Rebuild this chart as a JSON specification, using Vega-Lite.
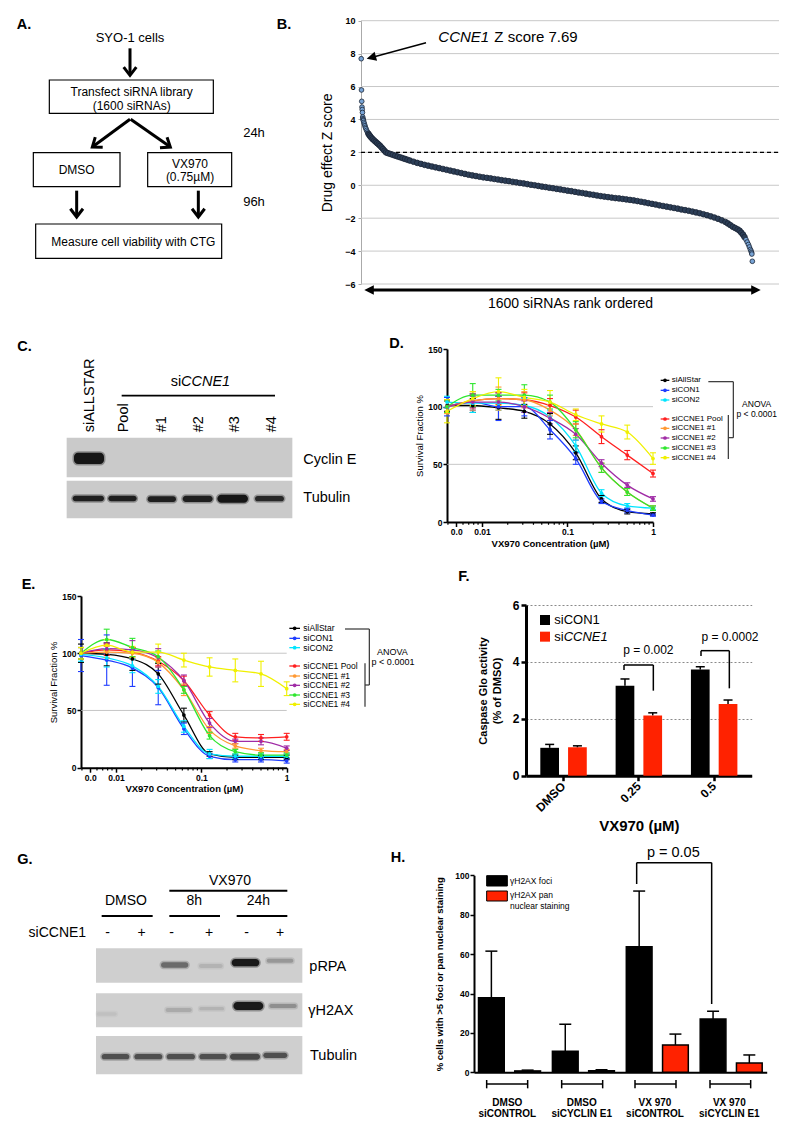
{
"$schema":"https://vega.github.io/schema/vega-lite/v6.json",
"width":800,"height":1135,"autosize":{"type":"none"},"padding":0,"background":"white",
"config":{"view":{"stroke":null},"font":"Liberation Sans","text":{"font":"Liberation Sans","color":"black"},
"axis":{"grid":false,"labelFont":"Liberation Sans","titleFont":"Liberation Sans","labelColor":"black","titleColor":"black","domainColor":"black","tickColor":"black","labelFlush":false,"labelOverlap":false}},
"datasets":{
"aBox":[{"x":148,"y":240,"x2":640,"y2":340},{"x":100,"y":458,"x2":360,"y2":560},{"x":443,"y":458,"x2":695,"y2":560},{"x":107,"y":672,"x2":665,"y2":775}],
"aLine":[{"x":390,"y":145,"x2":390,"y2":222},{"x":390,"y":358,"x2":281,"y2":438},{"x":392,"y":358,"x2":507,"y2":438},{"x":230,"y":572,"x2":230,"y2":647},{"x":595,"y":572,"x2":595,"y2":647}],
"aHead":[{"x":390,"y":226,"ang":0},{"x":230,"y":651,"ang":0},{"x":595,"y":651,"ang":0},{"x":277,"y":441,"ang":54},{"x":511,"y":441,"ang":-56}],
"aText":[{"x":395,"y":275,"t":"Transfect siRNA library"},{"x":395,"y":318,"t":"(1600 siRNAs)"},{"x":230,"y":510,"t":"DMSO"},{"x":570,"y":492,"t":"VX970"},{"x":570,"y":532,"t":"(0.75µM)"},{"x":400,"y":725,"t":"Measure cell viability with CTG"}],
"aText13":[{"x":390,"y":113,"t":"SYO-1 cells"},{"x":762,"y":400,"t":"24h"},{"x":762,"y":605,"t":"96h"}],
"aLetter":[{"x":50,"y":75,"t":"A."},{"x":830,"y":75,"t":"B."}],
"bGrid":[{"z":-6},{"z":-4},{"z":-2},{"z":0},{"z":2},{"z":4},{"z":6},{"z":8},{"z":10}],
"bZ":[{"r":1,"z":7.69},{"r":2,"z":5.79},{"r":3,"z":5.1},{"r":4,"z":4.75},{"r":5,"z":4.6},{"r":6,"z":4.42},{"r":7,"z":4.15},{"r":8,"z":4.05},{"r":9,"z":3.98},{"r":10,"z":3.92},{"r":12,"z":3.82},{"r":14,"z":3.72},{"r":16,"z":3.62},{"r":18,"z":3.52},{"r":20,"z":3.44},{"r":23,"z":3.34},{"r":26,"z":3.24},{"r":30,"z":3.14},{"r":34,"z":3.05},{"r":38,"z":2.97},{"r":43,"z":2.88},{"r":48,"z":2.8},{"r":54,"z":2.72},{"r":60,"z":2.64},{"r":66,"z":2.56},{"r":72,"z":2.48},{"r":78,"z":2.4},{"r":84,"z":2.3},{"r":90,"z":2.2},{"r":96,"z":2.1},{"r":102,"z":2.0},{"r":110,"z":1.95},{"r":120,"z":1.9},{"r":130,"z":1.85},{"r":140,"z":1.8},{"r":150,"z":1.75},{"r":160,"z":1.7},{"r":170,"z":1.65},{"r":180,"z":1.6},{"r":190,"z":1.55},{"r":200,"z":1.5},{"r":215,"z":1.43},{"r":230,"z":1.36},{"r":245,"z":1.3},{"r":260,"z":1.24},{"r":275,"z":1.19},{"r":290,"z":1.14},{"r":305,"z":1.09},{"r":320,"z":1.04},{"r":335,"z":0.99},{"r":350,"z":0.94},{"r":365,"z":0.89},{"r":380,"z":0.84},{"r":395,"z":0.79},{"r":410,"z":0.74},{"r":425,"z":0.69},{"r":440,"z":0.64},{"r":455,"z":0.6},{"r":470,"z":0.56},{"r":485,"z":0.52},{"r":500,"z":0.48},{"r":515,"z":0.45},{"r":530,"z":0.42},{"r":545,"z":0.38},{"r":560,"z":0.35},{"r":575,"z":0.31},{"r":590,"z":0.28},{"r":605,"z":0.25},{"r":620,"z":0.21},{"r":635,"z":0.18},{"r":650,"z":0.14},{"r":665,"z":0.11},{"r":680,"z":0.07},{"r":695,"z":0.03},{"r":710,"z":0.0},{"r":725,"z":-0.04},{"r":740,"z":-0.08},{"r":755,"z":-0.11},{"r":770,"z":-0.15},{"r":785,"z":-0.18},{"r":800,"z":-0.22},{"r":815,"z":-0.25},{"r":830,"z":-0.29},{"r":845,"z":-0.33},{"r":860,"z":-0.36},{"r":875,"z":-0.4},{"r":890,"z":-0.44},{"r":905,"z":-0.47},{"r":920,"z":-0.51},{"r":935,"z":-0.55},{"r":950,"z":-0.58},{"r":965,"z":-0.62},{"r":980,"z":-0.66},{"r":995,"z":-0.69},{"r":1010,"z":-0.72},{"r":1025,"z":-0.75},{"r":1040,"z":-0.78},{"r":1055,"z":-0.8},{"r":1070,"z":-0.83},{"r":1085,"z":-0.86},{"r":1100,"z":-0.89},{"r":1115,"z":-0.92},{"r":1130,"z":-0.96},{"r":1145,"z":-1.0},{"r":1160,"z":-1.04},{"r":1175,"z":-1.09},{"r":1190,"z":-1.13},{"r":1205,"z":-1.17},{"r":1220,"z":-1.22},{"r":1235,"z":-1.26},{"r":1250,"z":-1.3},{"r":1265,"z":-1.34},{"r":1280,"z":-1.38},{"r":1295,"z":-1.42},{"r":1310,"z":-1.47},{"r":1325,"z":-1.51},{"r":1340,"z":-1.55},{"r":1355,"z":-1.6},{"r":1370,"z":-1.65},{"r":1385,"z":-1.7},{"r":1400,"z":-1.76},{"r":1415,"z":-1.82},{"r":1430,"z":-1.89},{"r":1445,"z":-1.96},{"r":1460,"z":-2.04},{"r":1475,"z":-2.13},{"r":1490,"z":-2.23},{"r":1500,"z":-2.32},{"r":1510,"z":-2.42},{"r":1520,"z":-2.52},{"r":1530,"z":-2.6},{"r":1540,"z":-2.68},{"r":1548,"z":-2.76},{"r":1555,"z":-2.88},{"r":1562,"z":-3.0},{"r":1568,"z":-3.15},{"r":1574,"z":-3.3},{"r":1579,"z":-3.45},{"r":1584,"z":-3.6},{"r":1588,"z":-3.75},{"r":1592,"z":-3.9},{"r":1595,"z":-4.0},{"r":1597,"z":-4.1},{"r":1598,"z":-4.18},{"r":1600,"z":-4.62}],
"bTextI":[{"x":415,"y":110,"t":"CCNE1"}],
"bText":[{"x":583,"y":110,"t":"Z score 7.69"}],
"bThin":[{"x":378,"y":128,"x2":212,"y2":173}],
"bThick":[{"x":205,"y":870,"x2":1370,"y2":870}],
"bHead":[{"x":200,"y":176,"ang":75},{"x":193,"y":870,"ang":90},{"x":1382,"y":870,"ang":-90}],
"cBlot":[{"x":200,"y":398,"x2":877,"y2":517},{"x":200,"y":527,"x2":877,"y2":640}],
"cBand":[{"x":222,"x2":312,"y":443,"y2":477,"d":1},{"x":218,"x2":312,"y":572,"y2":589,"d":0.95},{"x":325,"x2":410,"y":572,"y2":589,"d":0.95},{"x":443,"x2":528,"y":574,"y2":591,"d":0.95},{"x":548,"x2":638,"y":572,"y2":591,"d":0.95},{"x":652,"x2":744,"y":569,"y2":593,"d":1},{"x":765,"x2":852,"y":573,"y2":589,"d":0.9}],
"cRot":[{"x":270,"y":382,"t":"siALLSTAR"},{"x":372,"y":382,"t":"Pool"},{"x":485,"y":382,"t":"#1"},{"x":597,"y":382,"t":"#2"},{"x":705,"y":382,"t":"#3"},{"x":815,"y":382,"t":"#4"}],
"cText":[{"x":910,"y":465,"t":"Cyclin E"},{"x":910,"y":578,"t":"Tubulin"},{"x":512,"y":230,"t":"si"}],
"cItal":[{"x":543,"y":230,"t":"CCNE1"}],
"cLine":[{"x":365,"y":272,"x2":825,"y2":272}],
"cLetter":[{"x":52,"y":125,"t":"C."},{"x":1168,"y":118,"t":"D."}],
"dTick":[{"c":0.004},{"c":0.006},{"c":0.007},{"c":0.008},{"c":0.009},{"c":0.02},{"c":0.03},{"c":0.04},{"c":0.05},{"c":0.06},{"c":0.07},{"c":0.08},{"c":0.09},{"c":0.2},{"c":0.3},{"c":0.4},{"c":0.5},{"c":0.6},{"c":0.7},{"c":0.8},{"c":0.9}],
"dRef":[{"v":50},{"v":100}],
"dD":[
{"s":"A","c":0.0039,"v":101,"lo":96,"hi":106},{"s":"A","c":0.0078,"v":101,"lo":95,"hi":107},{"s":"A","c":0.0156,"v":99,"lo":89,"hi":109},{"s":"A","c":0.0313,"v":96,"lo":90,"hi":102},{"s":"A","c":0.0625,"v":85,"lo":76,"hi":94},{"s":"A","c":0.125,"v":60,"lo":54,"hi":66},{"s":"A","c":0.25,"v":20,"lo":17,"hi":23},{"s":"A","c":0.5,"v":9,"lo":7,"hi":11},{"s":"A","c":1,"v":7,"lo":6,"hi":8},
{"s":"C1","c":0.0039,"v":100,"lo":92,"hi":108},{"s":"C1","c":0.0078,"v":104,"lo":97,"hi":111},{"s":"C1","c":0.0156,"v":100,"lo":88,"hi":112},{"s":"C1","c":0.0313,"v":100,"lo":92,"hi":108},{"s":"C1","c":0.0625,"v":80,"lo":72,"hi":88},{"s":"C1","c":0.125,"v":55,"lo":50,"hi":60},{"s":"C1","c":0.25,"v":18,"lo":16,"hi":20},{"s":"C1","c":0.5,"v":10,"lo":8,"hi":12},{"s":"C1","c":1,"v":6,"lo":5,"hi":7},
{"s":"C2","c":0.0039,"v":104,"lo":99,"hi":109},{"s":"C2","c":0.0078,"v":103,"lo":95,"hi":111},{"s":"C2","c":0.0156,"v":103,"lo":97,"hi":109},{"s":"C2","c":0.0313,"v":101,"lo":95,"hi":107},{"s":"C2","c":0.0625,"v":91,"lo":85,"hi":97},{"s":"C2","c":0.125,"v":66,"lo":61,"hi":71},{"s":"C2","c":0.25,"v":25,"lo":22,"hi":28},{"s":"C2","c":0.5,"v":14,"lo":12,"hi":16},{"s":"C2","c":1,"v":12,"lo":11,"hi":13},
{"s":"P","c":0.0039,"v":100,"lo":95,"hi":105},{"s":"P","c":0.0078,"v":105,"lo":99,"hi":111},{"s":"P","c":0.0156,"v":107,"lo":102,"hi":112},{"s":"P","c":0.0313,"v":106,"lo":100,"hi":112},{"s":"P","c":0.0625,"v":101,"lo":95,"hi":107},{"s":"P","c":0.125,"v":91,"lo":85,"hi":97},{"s":"P","c":0.25,"v":74,"lo":68,"hi":80},{"s":"P","c":0.5,"v":58,"lo":54,"hi":62},{"s":"P","c":1,"v":42,"lo":39,"hi":45},
{"s":"1","c":0.0039,"v":100,"lo":94,"hi":106},{"s":"1","c":0.0078,"v":105,"lo":97,"hi":113},{"s":"1","c":0.0156,"v":107,"lo":97,"hi":117},{"s":"1","c":0.0313,"v":106,"lo":99,"hi":113},{"s":"1","c":0.0625,"v":97,"lo":92,"hi":102},{"s":"1","c":0.125,"v":80,"lo":75,"hi":85},{"s":"1","c":0.25,"v":47,"lo":43,"hi":51},{"s":"1","c":0.5,"v":26,"lo":23,"hi":29},{"s":"1","c":1,"v":12,"lo":10,"hi":14},
{"s":"2","c":0.0039,"v":100,"lo":95,"hi":105},{"s":"2","c":0.0078,"v":104,"lo":99,"hi":109},{"s":"2","c":0.0156,"v":104,"lo":99,"hi":109},{"s":"2","c":0.0313,"v":100,"lo":95,"hi":105},{"s":"2","c":0.0625,"v":90,"lo":85,"hi":95},{"s":"2","c":0.125,"v":76,"lo":71,"hi":81},{"s":"2","c":0.25,"v":51,"lo":48,"hi":54},{"s":"2","c":0.5,"v":32,"lo":30,"hi":34},{"s":"2","c":1,"v":20,"lo":18,"hi":22},
{"s":"3","c":0.0039,"v":100,"lo":95,"hi":105},{"s":"3","c":0.0078,"v":110,"lo":100,"hi":120},{"s":"3","c":0.0156,"v":110,"lo":105,"hi":115},{"s":"3","c":0.0313,"v":110,"lo":101,"hi":119},{"s":"3","c":0.0625,"v":104,"lo":98,"hi":110},{"s":"3","c":0.125,"v":80,"lo":73,"hi":87},{"s":"3","c":0.25,"v":47,"lo":43,"hi":51},{"s":"3","c":0.5,"v":26,"lo":23,"hi":29},{"s":"3","c":1,"v":12,"lo":10,"hi":14},
{"s":"4","c":0.0039,"v":96,"lo":86,"hi":106},{"s":"4","c":0.0078,"v":107,"lo":101,"hi":113},{"s":"4","c":0.0156,"v":113,"lo":101,"hi":125},{"s":"4","c":0.0313,"v":108,"lo":101,"hi":115},{"s":"4","c":0.0625,"v":104,"lo":94,"hi":114},{"s":"4","c":0.125,"v":93,"lo":88,"hi":98},{"s":"4","c":0.25,"v":85,"lo":78,"hi":92},{"s":"4","c":0.5,"v":78,"lo":72,"hi":84},{"s":"4","c":1,"v":55,"lo":50,"hi":60}],
"dLeg":[{"s":"A","t":"siAllStar","y":226},{"s":"C1","t":"siCON1","y":256},{"s":"C2","t":"siCON2","y":285},{"s":"P","t":"siCCNE1 Pool","y":342},{"s":"1","t":"siCCNE1 #1","y":370},{"s":"2","t":"siCCNE1 #2","y":399},{"s":"3","t":"siCCNE1 #3","y":429},{"s":"4","t":"siCCNE1 #4","y":458}],
"dBr":[{"x":955,"y":230,"x2":1030,"y2":230},{"x":1030,"y":230,"x2":1030,"y2":398},{"x":1015,"y":398,"x2":1030,"y2":398},{"x":1015,"y":330,"x2":1015,"y2":462}],
"dAn":[{"x":1100,"y":298,"t":"ANOVA"},{"x":1100,"y":328,"t":"p < 0.0001"}],
"eD":[
{"s":"A","c":0.0039,"v":100,"lo":92,"hi":108},{"s":"A","c":0.0078,"v":99,"lo":89,"hi":109},{"s":"A","c":0.0156,"v":95,"lo":85,"hi":105},{"s":"A","c":0.0313,"v":82,"lo":73,"hi":91},{"s":"A","c":0.0625,"v":46,"lo":40,"hi":52},{"s":"A","c":0.125,"v":12,"lo":10,"hi":14},{"s":"A","c":0.25,"v":9,"lo":7,"hi":11},{"s":"A","c":0.5,"v":9,"lo":7,"hi":11},{"s":"A","c":1,"v":9,"lo":7,"hi":11},
{"s":"C1","c":0.0039,"v":98,"lo":84,"hi":112},{"s":"C1","c":0.0078,"v":94,"lo":72,"hi":116},{"s":"C1","c":0.0156,"v":87,"lo":71,"hi":103},{"s":"C1","c":0.0313,"v":70,"lo":55,"hi":85},{"s":"C1","c":0.0625,"v":34,"lo":29,"hi":39},{"s":"C1","c":0.125,"v":10,"lo":8,"hi":12},{"s":"C1","c":0.25,"v":7,"lo":5,"hi":9},{"s":"C1","c":0.5,"v":7,"lo":5,"hi":9},{"s":"C1","c":1,"v":6,"lo":4,"hi":8},
{"s":"C2","c":0.0039,"v":99,"lo":93,"hi":105},{"s":"C2","c":0.0078,"v":96,"lo":88,"hi":104},{"s":"C2","c":0.0156,"v":89,"lo":83,"hi":95},{"s":"C2","c":0.0313,"v":71,"lo":65,"hi":77},{"s":"C2","c":0.0625,"v":36,"lo":31,"hi":41},{"s":"C2","c":0.125,"v":12,"lo":8,"hi":16},{"s":"C2","c":0.25,"v":10,"lo":8,"hi":12},{"s":"C2","c":0.5,"v":10,"lo":8,"hi":12},{"s":"C2","c":1,"v":10,"lo":8,"hi":12},
{"s":"P","c":0.0039,"v":100,"lo":95,"hi":105},{"s":"P","c":0.0078,"v":103,"lo":98,"hi":108},{"s":"P","c":0.0156,"v":101,"lo":97,"hi":105},{"s":"P","c":0.0313,"v":93,"lo":89,"hi":97},{"s":"P","c":0.0625,"v":76,"lo":72,"hi":80},{"s":"P","c":0.125,"v":46,"lo":43,"hi":49},{"s":"P","c":0.25,"v":27,"lo":24,"hi":30},{"s":"P","c":0.5,"v":26,"lo":23,"hi":29},{"s":"P","c":1,"v":27,"lo":24,"hi":30},
{"s":"1","c":0.0039,"v":100,"lo":95,"hi":105},{"s":"1","c":0.0078,"v":101,"lo":96,"hi":106},{"s":"1","c":0.0156,"v":100,"lo":95,"hi":105},{"s":"1","c":0.0313,"v":92,"lo":88,"hi":96},{"s":"1","c":0.0625,"v":68,"lo":63,"hi":73},{"s":"1","c":0.125,"v":33,"lo":30,"hi":36},{"s":"1","c":0.25,"v":19,"lo":17,"hi":21},{"s":"1","c":0.5,"v":15,"lo":13,"hi":17},{"s":"1","c":1,"v":14,"lo":12,"hi":16},
{"s":"2","c":0.0039,"v":100,"lo":95,"hi":105},{"s":"2","c":0.0078,"v":104,"lo":99,"hi":109},{"s":"2","c":0.0156,"v":103,"lo":95,"hi":111},{"s":"2","c":0.0313,"v":96,"lo":88,"hi":104},{"s":"2","c":0.0625,"v":76,"lo":71,"hi":81},{"s":"2","c":0.125,"v":39,"lo":35,"hi":43},{"s":"2","c":0.25,"v":23,"lo":21,"hi":25},{"s":"2","c":0.5,"v":23,"lo":20,"hi":26},{"s":"2","c":1,"v":17,"lo":15,"hi":19},
{"s":"3","c":0.0039,"v":100,"lo":95,"hi":105},{"s":"3","c":0.0078,"v":112,"lo":103,"hi":121},{"s":"3","c":0.0156,"v":105,"lo":97,"hi":113},{"s":"3","c":0.0313,"v":97,"lo":92,"hi":102},{"s":"3","c":0.0625,"v":68,"lo":65,"hi":71},{"s":"3","c":0.125,"v":28,"lo":25,"hi":31},{"s":"3","c":0.25,"v":14,"lo":12,"hi":16},{"s":"3","c":0.5,"v":11,"lo":9,"hi":13},{"s":"3","c":1,"v":11,"lo":9,"hi":13},
{"s":"4","c":0.0039,"v":100,"lo":95,"hi":105},{"s":"4","c":0.0078,"v":107,"lo":102,"hi":112},{"s":"4","c":0.0156,"v":101,"lo":96,"hi":106},{"s":"4","c":0.0313,"v":101,"lo":94,"hi":108},{"s":"4","c":0.0625,"v":94,"lo":88,"hi":100},{"s":"4","c":0.125,"v":88,"lo":80,"hi":96},{"s":"4","c":0.25,"v":85,"lo":75,"hi":95},{"s":"4","c":0.5,"v":82,"lo":71,"hi":93},{"s":"4","c":1,"v":69,"lo":63,"hi":75}],
"eLeg":[{"s":"A","t":"siAllStar","y":205},{"s":"C1","t":"siCON1","y":235},{"s":"C2","t":"siCON2","y":263},{"s":"P","t":"siCCNE1 Pool","y":318},{"s":"1","t":"siCCNE1 #1","y":348},{"s":"2","t":"siCCNE1 #2","y":376},{"s":"3","t":"siCCNE1 #3","y":405},{"s":"4","t":"siCCNE1 #4","y":433}],
"eBr":[{"x":1035,"y":207,"x2":1108,"y2":207},{"x":1108,"y":207,"x2":1108,"y2":375},{"x":1095,"y":375,"x2":1108,"y2":375},{"x":1095,"y":310,"x2":1095,"y2":440}],
"eAn":[{"x":1177,"y":276,"t":"ANOVA"},{"x":1179,"y":306,"t":"p < 0.0001"}],
"eLetter":[{"x":65,"y":75,"t":"E."}],
"fD":[{"dose":"DMSO","g":"siCON1","v":0.98,"hi":1.1},{"dose":"DMSO","g":"siCCNE1","v":1.0,"hi":1.05},{"dose":"0.25","g":"siCON1","v":3.16,"hi":3.4},{"dose":"0.25","g":"siCCNE1","v":2.12,"hi":2.21},{"dose":"0.5","g":"siCON1","v":3.73,"hi":3.83},{"dose":"0.5","g":"siCCNE1","v":2.52,"hi":2.66}],
"fBox":[{"g":"siCON1","x":420,"y":165,"x2":450,"y2":195},{"g":"siCCNE1","x":420,"y":215,"x2":450,"y2":245}],
"fText":[{"x":463,"y":180,"t":"siCON1"},{"x":463,"y":230,"t":"si"}],
"fItal":[{"x":491,"y":230,"t":"CCNE1"}],
"fP":[{"x":745,"y":270,"t":"p = 0.002"},{"x":990,"y":232,"t":"p = 0.0002"}],
"fBr":[{"x":672,"y":330,"x2":672,"y2":315},{"x":672,"y":315,"x2":760,"y2":315},{"x":760,"y":315,"x2":760,"y2":392},{"x":903,"y":288,"x2":903,"y2":272},{"x":903,"y":272,"x2":988,"y2":272},{"x":988,"y":272,"x2":988,"y2":385}],
"fLetter":[{"x":175,"y":50,"t":"F."}],
"gBlot":[{"x":288,"y":415,"x2":907,"y2":518},{"x":288,"y":550,"x2":907,"y2":652},{"x":288,"y":678,"x2":907,"y2":793}],
"gBand":[{"x":483,"x2":565,"y":457,"y2":473,"d":0.55},{"x":597,"x2":668,"y":462,"y2":474,"d":0.15},{"x":695,"x2":778,"y":447,"y2":469,"d":1},{"x":800,"x2":880,"y":446,"y2":458,"d":0.3},{"x":290,"x2":350,"y":607,"y2":617,"d":0.08},{"x":497,"x2":575,"y":594,"y2":606,"d":0.2},{"x":598,"x2":672,"y":591,"y2":601,"d":0.15},{"x":700,"x2":790,"y":576,"y2":600,"d":1},{"x":808,"x2":890,"y":582,"y2":594,"d":0.35},{"x":305,"x2":388,"y":732,"y2":748,"d":0.7},{"x":403,"x2":487,"y":732,"y2":748,"d":0.7},{"x":500,"x2":585,"y":732,"y2":748,"d":0.7},{"x":598,"x2":680,"y":732,"y2":748,"d":0.7},{"x":690,"x2":780,"y":731,"y2":749,"d":0.75},{"x":790,"x2":862,"y":728,"y2":744,"d":0.7}],
"gText":[{"x":690,"y":213,"t":"VX970"},{"x":378,"y":272,"t":"DMSO"},{"x":583,"y":272,"t":"8h"},{"x":775,"y":272,"t":"24h"},{"x":172,"y":370,"t":"siCCNE1"},{"x":323,"y":368,"t":"-"},{"x":425,"y":368,"t":"+"},{"x":515,"y":368,"t":"-"},{"x":627,"y":368,"t":"+"},{"x":740,"y":368,"t":"-"},{"x":840,"y":368,"t":"+"}],
"gTextL":[{"x":928,"y":470,"t":"pRPA"},{"x":925,"y":603,"t":"γH2AX"},{"x":930,"y":738,"t":"Tubulin"}],
"gLine":[{"x":508,"y":242,"x2":862,"y2":242},{"x":305,"y":318,"x2":458,"y2":318},{"x":508,"y":318,"x2":660,"y2":318},{"x":710,"y":318,"x2":862,"y2":318}],
"gLetter":[{"x":52,"y":150,"t":"G."},{"x":1172,"y":143,"t":"H."}],
"hD":[{"grp":"DMSO siCONTROL","g":"foci","v":37.8,"hi":61.5},{"grp":"DMSO siCONTROL","g":"pan","v":0.7,"hi":1.1},{"grp":"DMSO siCYCLIN E1","g":"foci","v":10.7,"hi":24.4},{"grp":"DMSO siCYCLIN E1","g":"pan","v":0.8,"hi":1.3},{"grp":"VX 970 siCONTROL","g":"foci","v":63.7,"hi":92},{"grp":"VX 970 siCONTROL","g":"pan","v":13.9,"hi":19.4},{"grp":"VX 970 siCYCLIN E1","g":"foci","v":27.1,"hi":31},{"grp":"VX 970 siCYCLIN E1","g":"pan","v":4.7,"hi":8.8}],
"hBox":[{"g":"foci","x":260,"y":197,"x2":322,"y2":228},{"g":"pan","x":260,"y":243,"x2":322,"y2":273}],
"hLeg":[{"x":330,"y":212,"t":"γH2AX foci"},{"x":330,"y":255,"t":"γH2AX pan"},{"x":330,"y":288,"t":"nuclear staining"}],
"hP":[{"x":820,"y":128,"t":"p = 0.05"}],
"hBr":[{"x":710,"y":222,"x2":710,"y2":158},{"x":710,"y":158,"x2":935,"y2":158},{"x":935,"y":158,"x2":935,"y2":582},
{"x":260,"y":822,"x2":383,"y2":822},{"x":260,"y":810,"x2":260,"y2":835},{"x":383,"y":810,"x2":383,"y2":835},
{"x":485,"y":822,"x2":608,"y2":822},{"x":485,"y":810,"x2":485,"y2":835},{"x":608,"y":810,"x2":608,"y2":835},
{"x":705,"y":822,"x2":828,"y2":822},{"x":705,"y":810,"x2":705,"y2":835},{"x":828,"y":810,"x2":828,"y2":835},
{"x":930,"y":822,"x2":1052,"y2":822},{"x":930,"y":810,"x2":930,"y2":835},{"x":1052,"y":810,"x2":1052,"y2":835}],
"hLab":[{"x":322,"y":878,"t":"DMSO"},{"x":322,"y":912,"t":"siCONTROL"},{"x":545,"y":878,"t":"DMSO"},{"x":545,"y":912,"t":"siCYCLIN E1"},{"x":765,"y":878,"t":"VX 970"},{"x":765,"y":912,"t":"siCONTROL"},{"x":988,"y":878,"t":"VX 970"},{"x":988,"y":912,"t":"siCYCLIN E1"}]
},
"resolve":{"scale":{"x":"independent","y":"independent","color":"independent","opacity":"independent","xOffset":"independent"},"axis":{"x":"independent","y":"independent"}},
"layer":[
{"data":{"name":"aBox"},"mark":{"type":"rect","fill":"white","stroke":"black","strokeWidth":1.2},"encoding":{"x":{"field":"x","type":"quantitative","scale":{"domain":[0,900],"range":[0,300],"zero":false,"nice":false},"axis":null},"x2":{"field":"x2"},"y":{"field":"y","type":"quantitative","scale":{"domain":[0,930],"range":[0,310],"zero":false,"nice":false},"axis":null},"y2":{"field":"y2"}}},
{"data":{"name":"aLine"},"mark":{"type":"rule","color":"black","strokeWidth":3},"encoding":{"x":{"field":"x","type":"quantitative","scale":{"domain":[0,900],"range":[0,300],"zero":false,"nice":false},"axis":null},"x2":{"field":"x2"},"y":{"field":"y","type":"quantitative","scale":{"domain":[0,930],"range":[0,310],"zero":false,"nice":false},"axis":null},"y2":{"field":"y2"}}},
{"data":{"name":"aHead"},"mark":{"type":"point","shape":"M-1,-1.3L0,0L1,-1.3","filled":false,"stroke":"black","strokeWidth":3,"size":160,"opacity":1,"strokeJoin":"miter"},"encoding":{"x":{"field":"x","type":"quantitative","scale":{"domain":[0,900],"range":[0,300],"zero":false,"nice":false},"axis":null},"y":{"field":"y","type":"quantitative","scale":{"domain":[0,930],"range":[0,310],"zero":false,"nice":false},"axis":null},"angle":{"field":"ang","type":"quantitative","scale":null}}},
{"data":{"name":"aText"},"mark":{"type":"text","fontSize":12},"encoding":{"x":{"field":"x","type":"quantitative","scale":{"domain":[0,900],"range":[0,300],"zero":false,"nice":false},"axis":null},"y":{"field":"y","type":"quantitative","scale":{"domain":[0,930],"range":[0,310],"zero":false,"nice":false},"axis":null},"text":{"field":"t"}}},
{"data":{"name":"aText13"},"mark":{"type":"text","fontSize":13},"encoding":{"x":{"field":"x","type":"quantitative","scale":{"domain":[0,900],"range":[0,300],"zero":false,"nice":false},"axis":null},"y":{"field":"y","type":"quantitative","scale":{"domain":[0,930],"range":[0,310],"zero":false,"nice":false},"axis":null},"text":{"field":"t"}}},
{"data":{"name":"aLetter"},"mark":{"type":"text","fontSize":14.5,"fontWeight":"bold","align":"left"},"encoding":{"x":{"field":"x","type":"quantitative","scale":{"domain":[0,900],"range":[0,300],"zero":false,"nice":false},"axis":null},"y":{"field":"y","type":"quantitative","scale":{"domain":[0,930],"range":[0,310],"zero":false,"nice":false},"axis":null},"text":{"field":"t"}}},

{"data":{"name":"bGrid"},"mark":{"type":"rule","color":"#c8c8c8","strokeWidth":1},"encoding":{"y":{"field":"z","type":"quantitative","scale":{"domain":[-6,10],"range":[284,20.7],"zero":false,"nice":false},"axis":{"orient":"left","offset":-361,"values":[-6,-4,-2,0,2,4,6,8,10],"format":"d","labelFontSize":9,"labelFontWeight":"bold","tickSize":3,"tickColor":"#aaaaaa","domainColor":"#aaaaaa","labelPadding":3,"title":"Drug effect Z score","titleFontSize":14,"titleFontWeight":"normal","titlePadding":10}},"x":{"datum":0,"type":"quantitative","scale":{"domain":[0,1709],"range":[361,779],"zero":false,"nice":false},"axis":null},"x2":{"datum":1709}}},
{"data":{"values":[{}]},"mark":{"type":"rule","color":"black","strokeWidth":1.3,"strokeDash":[4,3]},"encoding":{"y":{"datum":2,"type":"quantitative","scale":{"domain":[-6,10],"range":[284,20.7],"zero":false,"nice":false},"axis":null},"x":{"datum":0,"type":"quantitative","scale":{"domain":[0,1709],"range":[361,779],"zero":false,"nice":false},"axis":null},"x2":{"datum":1709}}},
{"data":{"name":"bZ"},"mark":{"type":"point","shape":"circle","filled":true,"stroke":"#1a2535","strokeWidth":0.8,"opacity":1},"encoding":{"x":{"field":"r","type":"quantitative","scale":{"domain":[0,1709],"range":[361,779],"zero":false,"nice":false},"axis":{"orient":"bottom","offset":-851,"domain":false,"ticks":false,"labels":false,"title":"1600 siRNAs rank ordered","titleFontSize":14,"titleFontWeight":"normal","titlePadding":12}},"y":{"field":"z","type":"quantitative","scale":{"domain":[-6,10],"range":[284,20.7],"zero":false,"nice":false},"axis":null},"fill":{"condition":{"test":"datum.z > 3.2 || datum.z < -3.2","value":"#78a4d6"},"value":"#2c3e57"},"size":{"condition":{"test":"datum.z > 3.2 || datum.z < -3.2","value":22},"value":32}}},
{"data":{"name":"bTextI"},"mark":{"type":"text","fontSize":15,"fontStyle":"italic","align":"left"},"encoding":{"x":{"field":"x","type":"quantitative","scale":{"domain":[0,1500],"range":[300,800],"zero":false,"nice":false},"axis":null},"y":{"field":"y","type":"quantitative","scale":{"domain":[0,930],"range":[0,310],"zero":false,"nice":false},"axis":null},"text":{"field":"t"}}},
{"data":{"name":"bText"},"mark":{"type":"text","fontSize":15,"align":"left"},"encoding":{"x":{"field":"x","type":"quantitative","scale":{"domain":[0,1500],"range":[300,800],"zero":false,"nice":false},"axis":null},"y":{"field":"y","type":"quantitative","scale":{"domain":[0,930],"range":[0,310],"zero":false,"nice":false},"axis":null},"text":{"field":"t"}}},
{"data":{"name":"bThin"},"mark":{"type":"rule","color":"black","strokeWidth":1.5},"encoding":{"x":{"field":"x","type":"quantitative","scale":{"domain":[0,1500],"range":[300,800],"zero":false,"nice":false},"axis":null},"x2":{"field":"x2"},"y":{"field":"y","type":"quantitative","scale":{"domain":[0,930],"range":[0,310],"zero":false,"nice":false},"axis":null},"y2":{"field":"y2"}}},
{"data":{"name":"bThick"},"mark":{"type":"rule","color":"black","strokeWidth":3},"encoding":{"x":{"field":"x","type":"quantitative","scale":{"domain":[0,1500],"range":[300,800],"zero":false,"nice":false},"axis":null},"x2":{"field":"x2"},"y":{"field":"y","type":"quantitative","scale":{"domain":[0,930],"range":[0,310],"zero":false,"nice":false},"axis":null},"y2":{"field":"y2"}}},
{"data":{"name":"bHead"},"mark":{"type":"point","shape":"M0,0L-0.5,-1L0.5,-1Z","filled":true,"color":"black","size":360,"opacity":1},"encoding":{"x":{"field":"x","type":"quantitative","scale":{"domain":[0,1500],"range":[300,800],"zero":false,"nice":false},"axis":null},"y":{"field":"y","type":"quantitative","scale":{"domain":[0,930],"range":[0,310],"zero":false,"nice":false},"axis":null},"angle":{"field":"ang","type":"quantitative","scale":null}}},

{"data":{"name":"cBlot"},"mark":{"type":"rect","fill":"#cacaca"},"encoding":{"x":{"field":"x","type":"quantitative","scale":{"domain":[0,1200],"range":[0,400],"zero":false,"nice":false},"axis":null},"x2":{"field":"x2"},"y":{"field":"y","type":"quantitative","scale":{"domain":[0,645],"range":[305,520],"zero":false,"nice":false},"axis":null},"y2":{"field":"y2"}}},
{"data":{"name":"cBand"},"mark":{"type":"rect","fill":"#161616","stroke":"#161616","strokeWidth":3,"strokeOpacity":0.35,"cornerRadius":4},"encoding":{"x":{"field":"x","type":"quantitative","scale":{"domain":[0,1200],"range":[0,400],"zero":false,"nice":false},"axis":null},"x2":{"field":"x2"},"y":{"field":"y","type":"quantitative","scale":{"domain":[0,645],"range":[305,520],"zero":false,"nice":false},"axis":null},"y2":{"field":"y2"},"opacity":{"field":"d","type":"quantitative","scale":{"domain":[0,1],"range":[0,1]},"legend":null}}},
{"data":{"name":"cRot"},"mark":{"type":"text","fontSize":14.5,"angle":270,"align":"left","baseline":"middle"},"encoding":{"x":{"field":"x","type":"quantitative","scale":{"domain":[0,1200],"range":[0,400],"zero":false,"nice":false},"axis":null},"y":{"field":"y","type":"quantitative","scale":{"domain":[0,645],"range":[305,520],"zero":false,"nice":false},"axis":null},"text":{"field":"t"}}},
{"data":{"name":"cText"},"mark":{"type":"text","fontSize":14.5,"align":"left"},"encoding":{"x":{"field":"x","type":"quantitative","scale":{"domain":[0,1200],"range":[0,400],"zero":false,"nice":false},"axis":null},"y":{"field":"y","type":"quantitative","scale":{"domain":[0,645],"range":[305,520],"zero":false,"nice":false},"axis":null},"text":{"field":"t"}}},
{"data":{"name":"cItal"},"mark":{"type":"text","fontSize":14.5,"align":"left","fontStyle":"italic"},"encoding":{"x":{"field":"x","type":"quantitative","scale":{"domain":[0,1200],"range":[0,400],"zero":false,"nice":false},"axis":null},"y":{"field":"y","type":"quantitative","scale":{"domain":[0,645],"range":[305,520],"zero":false,"nice":false},"axis":null},"text":{"field":"t"}}},
{"data":{"name":"cLine"},"mark":{"type":"rule","color":"black","strokeWidth":1.8},"encoding":{"x":{"field":"x","type":"quantitative","scale":{"domain":[0,1200],"range":[0,400],"zero":false,"nice":false},"axis":null},"x2":{"field":"x2"},"y":{"field":"y","type":"quantitative","scale":{"domain":[0,645],"range":[305,520],"zero":false,"nice":false},"axis":null},"y2":{"field":"y2"}}},
{"data":{"name":"cLetter"},"mark":{"type":"text","fontSize":14.5,"fontWeight":"bold","align":"left"},"encoding":{"x":{"field":"x","type":"quantitative","scale":{"domain":[0,1200],"range":[0,400],"zero":false,"nice":false},"axis":null},"y":{"field":"y","type":"quantitative","scale":{"domain":[0,645],"range":[305,520],"zero":false,"nice":false},"axis":null},"text":{"field":"t"}}},

{"data":{"name":"dRef"},"mark":{"type":"rule","color":"#b8b8b8","strokeWidth":0.8},"encoding":{"y":{"field":"v","type":"quantitative","scale":{"domain":[0,150],"range":[522,349],"zero":false,"nice":false},"axis":null},"x":{"datum":0.0039,"type":"quantitative","scale":{"type":"log","domain":[0.0039,1],"range":[447,653],"nice":false},"axis":null},"x2":{"datum":1}}},
{"data":{"name":"dTick"},"mark":{"type":"rule","color":"black","strokeWidth":1.2},"encoding":{"x":{"field":"c","type":"quantitative","scale":{"type":"log","domain":[0.0039,1],"range":[447,653],"nice":false},"axis":null},"y":{"datum":0,"type":"quantitative","scale":{"domain":[0,150],"range":[522,349],"zero":false,"nice":false},"axis":null},"y2":{"datum":-2.4}}},
{"data":{"name":"dD"},"mark":{"type":"line","interpolate":"monotone","strokeWidth":1.3},"encoding":{"x":{"field":"c","type":"quantitative","scale":{"type":"log","domain":[0.0039,1],"range":[447,653],"nice":false},"axis":{"orient":"bottom","offset":-613,"values":[0.005,0.01,0.1,1],"format":"~g","labelExpr":"datum.value < 0.008 ? '0.0' : datum.label","labelFontSize":8.5,"labelFontWeight":"bold","tickSize":4.5,"tickWidth":1.5,"domainWidth":2,"labelPadding":1,"title":"VX970 Concentration (µM)","titleFontSize":9.5,"titleFontWeight":"bold","titlePadding":2}},"y":{"field":"v","type":"quantitative","scale":{"domain":[0,150],"range":[522,349],"zero":false,"nice":false},"axis":{"orient":"left","offset":-447,"values":[0,50,100,150],"labelFontSize":8.5,"labelFontWeight":"bold","tickSize":4,"tickWidth":1.5,"domainWidth":2,"labelPadding":1,"title":"Survival Fraction %","titleFontSize":9.5,"titleFontWeight":"normal","titlePadding":3}},"color":{"field":"s","type":"nominal","scale":{"domain":["A","C1","C2","P","1","2","3","4"],"range":["#000000","#1f3dff","#00e5ff","#ff1f1f","#ff9933","#a02ca6","#2ee62e","#f0f000"]},"legend":null}}},
{"data":{"name":"dD"},"mark":{"type":"rule","strokeWidth":1.1},"encoding":{"x":{"field":"c","type":"quantitative","scale":{"type":"log","domain":[0.0039,1],"range":[447,653],"nice":false},"axis":null},"y":{"field":"lo","type":"quantitative","scale":{"domain":[0,150],"range":[522,349],"zero":false,"nice":false},"axis":null},"y2":{"field":"hi"},"color":{"field":"s","type":"nominal","scale":{"domain":["A","C1","C2","P","1","2","3","4"],"range":["#000000","#1f3dff","#00e5ff","#ff1f1f","#ff9933","#a02ca6","#2ee62e","#f0f000"]},"legend":null}}},
{"data":{"name":"dD"},"mark":{"type":"tick","orient":"horizontal","size":6,"thickness":1.1,"opacity":1},"encoding":{"x":{"field":"c","type":"quantitative","scale":{"type":"log","domain":[0.0039,1],"range":[447,653],"nice":false},"axis":null},"y":{"field":"lo","type":"quantitative","scale":{"domain":[0,150],"range":[522,349],"zero":false,"nice":false},"axis":null},"color":{"field":"s","type":"nominal","scale":{"domain":["A","C1","C2","P","1","2","3","4"],"range":["#000000","#1f3dff","#00e5ff","#ff1f1f","#ff9933","#a02ca6","#2ee62e","#f0f000"]},"legend":null}}},
{"data":{"name":"dD"},"mark":{"type":"tick","orient":"horizontal","size":6,"thickness":1.1,"opacity":1},"encoding":{"x":{"field":"c","type":"quantitative","scale":{"type":"log","domain":[0.0039,1],"range":[447,653],"nice":false},"axis":null},"y":{"field":"hi","type":"quantitative","scale":{"domain":[0,150],"range":[522,349],"zero":false,"nice":false},"axis":null},"color":{"field":"s","type":"nominal","scale":{"domain":["A","C1","C2","P","1","2","3","4"],"range":["#000000","#1f3dff","#00e5ff","#ff1f1f","#ff9933","#a02ca6","#2ee62e","#f0f000"]},"legend":null}}},
{"data":{"name":"dD"},"mark":{"type":"point","filled":true,"size":14,"opacity":1},"encoding":{"x":{"field":"c","type":"quantitative","scale":{"type":"log","domain":[0.0039,1],"range":[447,653],"nice":false},"axis":null},"y":{"field":"v","type":"quantitative","scale":{"domain":[0,150],"range":[522,349],"zero":false,"nice":false},"axis":null},"color":{"field":"s","type":"nominal","scale":{"domain":["A","C1","C2","P","1","2","3","4"],"range":["#000000","#1f3dff","#00e5ff","#ff1f1f","#ff9933","#a02ca6","#2ee62e","#f0f000"]},"legend":null}}},
{"data":{"name":"dLeg"},"mark":{"type":"rule","strokeWidth":1.3},"encoding":{"x":{"datum":812,"type":"quantitative","scale":{"domain":[0,1230],"range":[390,800],"zero":false,"nice":false},"axis":null},"x2":{"datum":838},"y":{"field":"y","type":"quantitative","scale":{"domain":[0,735],"range":[305,550],"zero":false,"nice":false},"axis":null},"color":{"field":"s","type":"nominal","scale":{"domain":["A","C1","C2","P","1","2","3","4"],"range":["#000000","#1f3dff","#00e5ff","#ff1f1f","#ff9933","#a02ca6","#2ee62e","#f0f000"]},"legend":null}}},
{"data":{"name":"dLeg"},"mark":{"type":"point","filled":true,"size":14,"opacity":1},"encoding":{"x":{"datum":825,"type":"quantitative","scale":{"domain":[0,1230],"range":[390,800],"zero":false,"nice":false},"axis":null},"y":{"field":"y","type":"quantitative","scale":{"domain":[0,735],"range":[305,550],"zero":false,"nice":false},"axis":null},"color":{"field":"s","type":"nominal","scale":{"domain":["A","C1","C2","P","1","2","3","4"],"range":["#000000","#1f3dff","#00e5ff","#ff1f1f","#ff9933","#a02ca6","#2ee62e","#f0f000"]},"legend":null}}},
{"data":{"name":"dLeg"},"mark":{"type":"text","fontSize":8,"align":"left"},"encoding":{"x":{"datum":845,"type":"quantitative","scale":{"domain":[0,1230],"range":[390,800],"zero":false,"nice":false},"axis":null},"y":{"field":"y","type":"quantitative","scale":{"domain":[0,735],"range":[305,550],"zero":false,"nice":false},"axis":null},"text":{"field":"t"}}},
{"data":{"name":"dBr"},"mark":{"type":"rule","color":"#333333","strokeWidth":1.2},"encoding":{"x":{"field":"x","type":"quantitative","scale":{"domain":[0,1230],"range":[390,800],"zero":false,"nice":false},"axis":null},"x2":{"field":"x2"},"y":{"field":"y","type":"quantitative","scale":{"domain":[0,735],"range":[305,550],"zero":false,"nice":false},"axis":null},"y2":{"field":"y2"}}},
{"data":{"name":"dAn"},"mark":{"type":"text","fontSize":8.5},"encoding":{"x":{"field":"x","type":"quantitative","scale":{"domain":[0,1230],"range":[390,800],"zero":false,"nice":false},"axis":null},"y":{"field":"y","type":"quantitative","scale":{"domain":[0,735],"range":[305,550],"zero":false,"nice":false},"axis":null},"text":{"field":"t"}}},

{"data":{"name":"dRef"},"mark":{"type":"rule","color":"#b8b8b8","strokeWidth":0.8},"encoding":{"y":{"field":"v","type":"quantitative","scale":{"domain":[0,150],"range":[767.7,596],"zero":false,"nice":false},"axis":null},"x":{"datum":0.0039,"type":"quantitative","scale":{"type":"log","domain":[0.0039,1],"range":[81,286.7],"nice":false},"axis":null},"x2":{"datum":1}}},
{"data":{"name":"dTick"},"mark":{"type":"rule","color":"black","strokeWidth":1.2},"encoding":{"x":{"field":"c","type":"quantitative","scale":{"type":"log","domain":[0.0039,1],"range":[81,286.7],"nice":false},"axis":null},"y":{"datum":0,"type":"quantitative","scale":{"domain":[0,150],"range":[767.7,596],"zero":false,"nice":false},"axis":null},"y2":{"datum":-2.4}}},
{"data":{"name":"eD"},"mark":{"type":"line","interpolate":"monotone","strokeWidth":1.3},"encoding":{"x":{"field":"c","type":"quantitative","scale":{"type":"log","domain":[0.0039,1],"range":[81,286.7],"nice":false},"axis":{"orient":"bottom","offset":-367.3,"values":[0.005,0.01,0.1,1],"format":"~g","labelExpr":"datum.value < 0.008 ? '0.0' : datum.label","labelFontSize":8.5,"labelFontWeight":"bold","tickSize":4.5,"tickWidth":1.5,"domainWidth":2,"labelPadding":1,"title":"VX970 Concentration (µM)","titleFontSize":9.5,"titleFontWeight":"bold","titlePadding":2}},"y":{"field":"v","type":"quantitative","scale":{"domain":[0,150],"range":[767.7,596],"zero":false,"nice":false},"axis":{"orient":"left","offset":-81,"values":[0,50,100,150],"labelFontSize":8.5,"labelFontWeight":"bold","tickSize":4,"tickWidth":1.5,"domainWidth":2,"labelPadding":1,"title":"Survival Fraction %","titleFontSize":9.5,"titleFontWeight":"normal","titlePadding":3}},"color":{"field":"s","type":"nominal","scale":{"domain":["A","C1","C2","P","1","2","3","4"],"range":["#000000","#1f3dff","#00e5ff","#ff1f1f","#ff9933","#a02ca6","#2ee62e","#f0f000"]},"legend":null}}},
{"data":{"name":"eD"},"mark":{"type":"rule","strokeWidth":1.1},"encoding":{"x":{"field":"c","type":"quantitative","scale":{"type":"log","domain":[0.0039,1],"range":[81,286.7],"nice":false},"axis":null},"y":{"field":"lo","type":"quantitative","scale":{"domain":[0,150],"range":[767.7,596],"zero":false,"nice":false},"axis":null},"y2":{"field":"hi"},"color":{"field":"s","type":"nominal","scale":{"domain":["A","C1","C2","P","1","2","3","4"],"range":["#000000","#1f3dff","#00e5ff","#ff1f1f","#ff9933","#a02ca6","#2ee62e","#f0f000"]},"legend":null}}},
{"data":{"name":"eD"},"mark":{"type":"tick","orient":"horizontal","size":6,"thickness":1.1,"opacity":1},"encoding":{"x":{"field":"c","type":"quantitative","scale":{"type":"log","domain":[0.0039,1],"range":[81,286.7],"nice":false},"axis":null},"y":{"field":"lo","type":"quantitative","scale":{"domain":[0,150],"range":[767.7,596],"zero":false,"nice":false},"axis":null},"color":{"field":"s","type":"nominal","scale":{"domain":["A","C1","C2","P","1","2","3","4"],"range":["#000000","#1f3dff","#00e5ff","#ff1f1f","#ff9933","#a02ca6","#2ee62e","#f0f000"]},"legend":null}}},
{"data":{"name":"eD"},"mark":{"type":"tick","orient":"horizontal","size":6,"thickness":1.1,"opacity":1},"encoding":{"x":{"field":"c","type":"quantitative","scale":{"type":"log","domain":[0.0039,1],"range":[81,286.7],"nice":false},"axis":null},"y":{"field":"hi","type":"quantitative","scale":{"domain":[0,150],"range":[767.7,596],"zero":false,"nice":false},"axis":null},"color":{"field":"s","type":"nominal","scale":{"domain":["A","C1","C2","P","1","2","3","4"],"range":["#000000","#1f3dff","#00e5ff","#ff1f1f","#ff9933","#a02ca6","#2ee62e","#f0f000"]},"legend":null}}},
{"data":{"name":"eD"},"mark":{"type":"point","filled":true,"size":14,"opacity":1},"encoding":{"x":{"field":"c","type":"quantitative","scale":{"type":"log","domain":[0.0039,1],"range":[81,286.7],"nice":false},"axis":null},"y":{"field":"v","type":"quantitative","scale":{"domain":[0,150],"range":[767.7,596],"zero":false,"nice":false},"axis":null},"color":{"field":"s","type":"nominal","scale":{"domain":["A","C1","C2","P","1","2","3","4"],"range":["#000000","#1f3dff","#00e5ff","#ff1f1f","#ff9933","#a02ca6","#2ee62e","#f0f000"]},"legend":null}}},
{"data":{"name":"eLeg"},"mark":{"type":"rule","strokeWidth":1.3},"encoding":{"x":{"datum":868,"type":"quantitative","scale":{"domain":[0,1200],"range":[0,400],"zero":false,"nice":false},"axis":null},"x2":{"datum":900},"y":{"field":"y","type":"quantitative","scale":{"domain":[0,750],"range":[560,810],"zero":false,"nice":false},"axis":null},"color":{"field":"s","type":"nominal","scale":{"domain":["A","C1","C2","P","1","2","3","4"],"range":["#000000","#1f3dff","#00e5ff","#ff1f1f","#ff9933","#a02ca6","#2ee62e","#f0f000"]},"legend":null}}},
{"data":{"name":"eLeg"},"mark":{"type":"point","filled":true,"size":14,"opacity":1},"encoding":{"x":{"datum":884,"type":"quantitative","scale":{"domain":[0,1200],"range":[0,400],"zero":false,"nice":false},"axis":null},"y":{"field":"y","type":"quantitative","scale":{"domain":[0,750],"range":[560,810],"zero":false,"nice":false},"axis":null},"color":{"field":"s","type":"nominal","scale":{"domain":["A","C1","C2","P","1","2","3","4"],"range":["#000000","#1f3dff","#00e5ff","#ff1f1f","#ff9933","#a02ca6","#2ee62e","#f0f000"]},"legend":null}}},
{"data":{"name":"eLeg"},"mark":{"type":"text","fontSize":8.5,"align":"left"},"encoding":{"x":{"datum":910,"type":"quantitative","scale":{"domain":[0,1200],"range":[0,400],"zero":false,"nice":false},"axis":null},"y":{"field":"y","type":"quantitative","scale":{"domain":[0,750],"range":[560,810],"zero":false,"nice":false},"axis":null},"text":{"field":"t"}}},
{"data":{"name":"eBr"},"mark":{"type":"rule","color":"#333333","strokeWidth":1.2},"encoding":{"x":{"field":"x","type":"quantitative","scale":{"domain":[0,1200],"range":[0,400],"zero":false,"nice":false},"axis":null},"x2":{"field":"x2"},"y":{"field":"y","type":"quantitative","scale":{"domain":[0,750],"range":[560,810],"zero":false,"nice":false},"axis":null},"y2":{"field":"y2"}}},
{"data":{"name":"eAn"},"mark":{"type":"text","fontSize":9},"encoding":{"x":{"field":"x","type":"quantitative","scale":{"domain":[0,1200],"range":[0,400],"zero":false,"nice":false},"axis":null},"y":{"field":"y","type":"quantitative","scale":{"domain":[0,750],"range":[560,810],"zero":false,"nice":false},"axis":null},"text":{"field":"t"}}},
{"data":{"name":"eLetter"},"mark":{"type":"text","fontSize":14.5,"fontWeight":"bold","align":"left"},"encoding":{"x":{"field":"x","type":"quantitative","scale":{"domain":[0,1200],"range":[0,400],"zero":false,"nice":false},"axis":null},"y":{"field":"y","type":"quantitative","scale":{"domain":[0,750],"range":[560,810],"zero":false,"nice":false},"axis":null},"text":{"field":"t"}}},

{"data":{"name":"fD"},"mark":{"type":"bar","opacity":1},"encoding":{"x":{"field":"dose","type":"nominal","sort":null,"scale":{"type":"band","domain":["DMSO","0.25","0.5"],"range":[526,751.7],"paddingInner":0.383,"paddingOuter":0.19},"axis":{"orient":"bottom","offset":-359.3,"labelAngle":-45,"labelAlign":"right","labelBaseline":"middle","labelFontSize":12,"labelFontWeight":"bold","tickSize":5,"tickWidth":2.5,"domainWidth":3,"labelPadding":3,"title":"VX970 (µM)","titleFontSize":15,"titleFontWeight":"bold","titlePadding":5}},"xOffset":{"field":"g","type":"nominal","sort":null,"scale":{"type":"band","domain":["siCON1","siCCNE1"],"paddingInner":0.326,"paddingOuter":0}},"y":{"field":"v","type":"quantitative","scale":{"domain":[0,6],"range":[775.7,605],"zero":false,"nice":false},"axis":{"orient":"left","offset":-526,"values":[0,2,4,6],"labelFontSize":12,"labelFontWeight":"bold","tickSize":5,"tickWidth":2.5,"domainWidth":3,"labelPadding":2,"grid":true,"gridDash":[2,2],"gridColor":"#8a8a8a","gridWidth":1,"title":["Caspase Glo activity","(% of DMSO)"],"titleFontSize":11,"titleFontWeight":"bold","titlePadding":10,"titleLineHeight":14}},"color":{"field":"g","type":"nominal","scale":{"domain":["siCON1","siCCNE1"],"range":["#000000","#ff2200"]},"legend":null}}},
{"data":{"name":"fD"},"mark":{"type":"rule","color":"black","strokeWidth":1.5},"encoding":{"x":{"field":"dose","type":"nominal","sort":null,"scale":{"type":"band","domain":["DMSO","0.25","0.5"],"range":[526,751.7],"paddingInner":0.383,"paddingOuter":0.19},"axis":null},"xOffset":{"field":"g","type":"nominal","sort":null,"scale":{"type":"band","domain":["siCON1","siCCNE1"],"paddingInner":0.326,"paddingOuter":0}},"y":{"field":"v","type":"quantitative","scale":{"domain":[0,6],"range":[775.7,605],"zero":false,"nice":false},"axis":null},"y2":{"field":"hi"}}},
{"data":{"name":"fD"},"mark":{"type":"tick","orient":"horizontal","size":9,"thickness":1.5,"color":"black","opacity":1},"encoding":{"x":{"field":"dose","type":"nominal","sort":null,"scale":{"type":"band","domain":["DMSO","0.25","0.5"],"range":[526,751.7],"paddingInner":0.383,"paddingOuter":0.19},"axis":null},"xOffset":{"field":"g","type":"nominal","sort":null,"scale":{"type":"band","domain":["siCON1","siCCNE1"],"paddingInner":0.326,"paddingOuter":0}},"y":{"field":"hi","type":"quantitative","scale":{"domain":[0,6],"range":[775.7,605],"zero":false,"nice":false},"axis":null}}},
{"data":{"name":"fBox"},"mark":{"type":"rect"},"encoding":{"x":{"field":"x","type":"quantitative","scale":{"domain":[0,1200],"range":[400,800],"zero":false,"nice":false},"axis":null},"x2":{"field":"x2"},"y":{"field":"y","type":"quantitative","scale":{"domain":[0,780],"range":[560,820],"zero":false,"nice":false},"axis":null},"y2":{"field":"y2"},"color":{"field":"g","type":"nominal","scale":{"domain":["siCON1","siCCNE1"],"range":["#000000","#ff2200"]},"legend":null}}},
{"data":{"name":"fText"},"mark":{"type":"text","fontSize":13,"align":"left"},"encoding":{"x":{"field":"x","type":"quantitative","scale":{"domain":[0,1200],"range":[400,800],"zero":false,"nice":false},"axis":null},"y":{"field":"y","type":"quantitative","scale":{"domain":[0,780],"range":[560,820],"zero":false,"nice":false},"axis":null},"text":{"field":"t"}}},
{"data":{"name":"fItal"},"mark":{"type":"text","fontSize":13,"align":"left","fontStyle":"italic"},"encoding":{"x":{"field":"x","type":"quantitative","scale":{"domain":[0,1200],"range":[400,800],"zero":false,"nice":false},"axis":null},"y":{"field":"y","type":"quantitative","scale":{"domain":[0,780],"range":[560,820],"zero":false,"nice":false},"axis":null},"text":{"field":"t"}}},
{"data":{"name":"fP"},"mark":{"type":"text","fontSize":12},"encoding":{"x":{"field":"x","type":"quantitative","scale":{"domain":[0,1200],"range":[400,800],"zero":false,"nice":false},"axis":null},"y":{"field":"y","type":"quantitative","scale":{"domain":[0,780],"range":[560,820],"zero":false,"nice":false},"axis":null},"text":{"field":"t"}}},
{"data":{"name":"fBr"},"mark":{"type":"rule","color":"black","strokeWidth":1.5},"encoding":{"x":{"field":"x","type":"quantitative","scale":{"domain":[0,1200],"range":[400,800],"zero":false,"nice":false},"axis":null},"x2":{"field":"x2"},"y":{"field":"y","type":"quantitative","scale":{"domain":[0,780],"range":[560,820],"zero":false,"nice":false},"axis":null},"y2":{"field":"y2"}}},
{"data":{"name":"fLetter"},"mark":{"type":"text","fontSize":14.5,"fontWeight":"bold","align":"left"},"encoding":{"x":{"field":"x","type":"quantitative","scale":{"domain":[0,1200],"range":[400,800],"zero":false,"nice":false},"axis":null},"y":{"field":"y","type":"quantitative","scale":{"domain":[0,780],"range":[560,820],"zero":false,"nice":false},"axis":null},"text":{"field":"t"}}},

{"data":{"name":"gBlot"},"mark":{"type":"rect","fill":"#cfcfcf"},"encoding":{"x":{"field":"x","type":"quantitative","scale":{"domain":[0,1200],"range":[0,400],"zero":false,"nice":false},"axis":null},"x2":{"field":"x2"},"y":{"field":"y","type":"quantitative","scale":{"domain":[0,960],"range":[810,1130],"zero":false,"nice":false},"axis":null},"y2":{"field":"y2"}}},
{"data":{"name":"gBand"},"mark":{"type":"rect","fill":"#1a1a1a","stroke":"#1a1a1a","strokeWidth":3,"strokeOpacity":0.35,"cornerRadius":4},"encoding":{"x":{"field":"x","type":"quantitative","scale":{"domain":[0,1200],"range":[0,400],"zero":false,"nice":false},"axis":null},"x2":{"field":"x2"},"y":{"field":"y","type":"quantitative","scale":{"domain":[0,960],"range":[810,1130],"zero":false,"nice":false},"axis":null},"y2":{"field":"y2"},"opacity":{"field":"d","type":"quantitative","scale":{"domain":[0,1],"range":[0,1]},"legend":null}}},
{"data":{"name":"gText"},"mark":{"type":"text","fontSize":14},"encoding":{"x":{"field":"x","type":"quantitative","scale":{"domain":[0,1200],"range":[0,400],"zero":false,"nice":false},"axis":null},"y":{"field":"y","type":"quantitative","scale":{"domain":[0,960],"range":[810,1130],"zero":false,"nice":false},"axis":null},"text":{"field":"t"}}},
{"data":{"name":"gTextL"},"mark":{"type":"text","fontSize":14.5,"align":"left"},"encoding":{"x":{"field":"x","type":"quantitative","scale":{"domain":[0,1200],"range":[0,400],"zero":false,"nice":false},"axis":null},"y":{"field":"y","type":"quantitative","scale":{"domain":[0,960],"range":[810,1130],"zero":false,"nice":false},"axis":null},"text":{"field":"t"}}},
{"data":{"name":"gLine"},"mark":{"type":"rule","color":"black","strokeWidth":2},"encoding":{"x":{"field":"x","type":"quantitative","scale":{"domain":[0,1200],"range":[0,400],"zero":false,"nice":false},"axis":null},"x2":{"field":"x2"},"y":{"field":"y","type":"quantitative","scale":{"domain":[0,960],"range":[810,1130],"zero":false,"nice":false},"axis":null},"y2":{"field":"y2"}}},
{"data":{"name":"gLetter"},"mark":{"type":"text","fontSize":14.5,"fontWeight":"bold","align":"left"},"encoding":{"x":{"field":"x","type":"quantitative","scale":{"domain":[0,1200],"range":[0,400],"zero":false,"nice":false},"axis":null},"y":{"field":"y","type":"quantitative","scale":{"domain":[0,960],"range":[810,1130],"zero":false,"nice":false},"axis":null},"text":{"field":"t"}}},

{"data":{"name":"hD"},"mark":{"type":"bar","opacity":1,"stroke":"black","strokeWidth":1.5},"encoding":{"x":{"field":"grp","type":"nominal","sort":null,"scale":{"type":"band","domain":["DMSO siCONTROL","DMSO siCYCLIN E1","VX 970 siCONTROL","VX 970 siCYCLIN E1"],"range":[474,766.7],"paddingInner":0.161,"paddingOuter":0.061},"axis":{"orient":"bottom","offset":-62.7,"labels":false,"ticks":false,"domainWidth":2,"title":null}},"xOffset":{"field":"g","type":"nominal","sort":null,"scale":{"type":"band","domain":["foci","pan"],"paddingInner":0.29,"paddingOuter":0}},"y":{"field":"v","type":"quantitative","scale":{"domain":[0,100],"range":[1072.3,875.3],"zero":false,"nice":false},"axis":{"orient":"left","offset":-474,"values":[0,20,40,60,80,100],"labelFontSize":8.5,"labelFontWeight":"bold","tickSize":4,"tickWidth":1.5,"domainWidth":2,"labelPadding":1,"title":"% cells with >5 foci or pan nuclear staining","titleFontSize":9.5,"titleFontWeight":"bold","titlePadding":10}},"color":{"field":"g","type":"nominal","scale":{"domain":["foci","pan"],"range":["#000000","#ff2200"]},"legend":null}}},
{"data":{"name":"hD"},"mark":{"type":"rule","color":"black","strokeWidth":1.5},"encoding":{"x":{"field":"grp","type":"nominal","sort":null,"scale":{"type":"band","domain":["DMSO siCONTROL","DMSO siCYCLIN E1","VX 970 siCONTROL","VX 970 siCYCLIN E1"],"range":[474,766.7],"paddingInner":0.161,"paddingOuter":0.061},"axis":null},"xOffset":{"field":"g","type":"nominal","sort":null,"scale":{"type":"band","domain":["foci","pan"],"paddingInner":0.29,"paddingOuter":0}},"y":{"field":"v","type":"quantitative","scale":{"domain":[0,100],"range":[1072.3,875.3],"zero":false,"nice":false},"axis":null},"y2":{"field":"hi"}}},
{"data":{"name":"hD"},"mark":{"type":"tick","orient":"horizontal","size":12,"thickness":1.5,"color":"black","opacity":1},"encoding":{"x":{"field":"grp","type":"nominal","sort":null,"scale":{"type":"band","domain":["DMSO siCONTROL","DMSO siCYCLIN E1","VX 970 siCONTROL","VX 970 siCYCLIN E1"],"range":[474,766.7],"paddingInner":0.161,"paddingOuter":0.061},"axis":null},"xOffset":{"field":"g","type":"nominal","sort":null,"scale":{"type":"band","domain":["foci","pan"],"paddingInner":0.29,"paddingOuter":0}},"y":{"field":"hi","type":"quantitative","scale":{"domain":[0,100],"range":[1072.3,875.3],"zero":false,"nice":false},"axis":null}}},
{"data":{"name":"hBox"},"mark":{"type":"rect","stroke":"black","strokeWidth":1},"encoding":{"x":{"field":"x","type":"quantitative","scale":{"domain":[0,1200],"range":[400,800],"zero":false,"nice":false},"axis":null},"x2":{"field":"x2"},"y":{"field":"y","type":"quantitative","scale":{"domain":[0,975],"range":[810,1135],"zero":false,"nice":false},"axis":null},"y2":{"field":"y2"},"color":{"field":"g","type":"nominal","scale":{"domain":["foci","pan"],"range":["#000000","#ff2200"]},"legend":null}}},
{"data":{"name":"hLeg"},"mark":{"type":"text","fontSize":8.5,"align":"left"},"encoding":{"x":{"field":"x","type":"quantitative","scale":{"domain":[0,1200],"range":[400,800],"zero":false,"nice":false},"axis":null},"y":{"field":"y","type":"quantitative","scale":{"domain":[0,975],"range":[810,1135],"zero":false,"nice":false},"axis":null},"text":{"field":"t"}}},
{"data":{"name":"hP"},"mark":{"type":"text","fontSize":14.5},"encoding":{"x":{"field":"x","type":"quantitative","scale":{"domain":[0,1200],"range":[400,800],"zero":false,"nice":false},"axis":null},"y":{"field":"y","type":"quantitative","scale":{"domain":[0,975],"range":[810,1135],"zero":false,"nice":false},"axis":null},"text":{"field":"t"}}},
{"data":{"name":"hBr"},"mark":{"type":"rule","color":"black","strokeWidth":1.5},"encoding":{"x":{"field":"x","type":"quantitative","scale":{"domain":[0,1200],"range":[400,800],"zero":false,"nice":false},"axis":null},"x2":{"field":"x2"},"y":{"field":"y","type":"quantitative","scale":{"domain":[0,975],"range":[810,1135],"zero":false,"nice":false},"axis":null},"y2":{"field":"y2"}}},
{"data":{"name":"hLab"},"mark":{"type":"text","fontSize":10,"fontWeight":"bold"},"encoding":{"x":{"field":"x","type":"quantitative","scale":{"domain":[0,1200],"range":[400,800],"zero":false,"nice":false},"axis":null},"y":{"field":"y","type":"quantitative","scale":{"domain":[0,975],"range":[810,1135],"zero":false,"nice":false},"axis":null},"text":{"field":"t"}}}
]
}
